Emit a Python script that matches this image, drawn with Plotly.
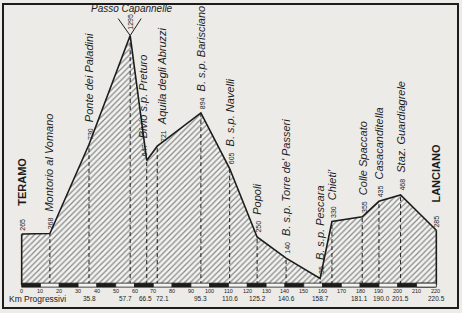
import plotly.graph_objects as go

# ---- data ----
names = ["TERAMO", "Montorio al Vomano", "Ponte dei Paladini", "Passo Capannelle",
         "Bivio s.p. Preturo", "Aquila degli Abruzzi", "B. s.p. Barisciano",
         "B. s.p. Navelli", "Popoli", "B. s.p. Torre de' Passeri", "B. s.p. Pescara",
         "Chieti'", "Colle Spaccato", "Casacanditella", "Staz. Guardiagrele", "LANCIANO"]
km = [0, 15, 35.8, 57.7, 66.5, 72.1, 95.3, 110.6, 125.2, 140.6, 158.7, 165, 181.1, 190.0, 201.5, 220.5]
elev = [265, 268, 730, 1295, 647, 721, 894, 605, 250, 140, 35, 330, 355, 435, 468, 285]
ticks = list(range(0, 230, 10))
km_labels = ["35.8", "57.7", "66.5", "72.1", "95.3", "110.6", "125.2", "140.6",
             "158.7", "181.1", "190.0", "201.5", "220.5"]
km_label_pos = [35.8, 57.7, 66.5, 72.1, 95.3, 110.6, 125.2, 140.6, 158.7, 181.1, 190.0, 201.5, 220.5]

INK = "#1c1c1c"
PAPER = "#ecebe8"
FILLBG = "#f3f3f1"
FONT = "Liberation Sans"

# small horizontal nudges for crowded labels (pixels)
label_nudge = {"Bivio s.p. Preturo": -3, "Aquila degli Abruzzi": 4}
km_nudge = {"57.7": -5, "66.5": -1, "72.1": 5, "181.1": -3, "190.0": 3}

fig = go.Figure()
fig.add_trace(go.Scatter(
    x=km, y=elev, mode="lines", line=dict(color=INK, width=1.6),
    fill="tozeroy", fillcolor="rgba(0,0,0,0)",
    fillpattern=dict(shape="/", fgcolor="#222222", bgcolor=FILLBG, size=4, solidity=0.33),
    hoverinfo="skip", showlegend=False))

shapes = []
for k, e in zip(km[1:-1], elev[1:-1]):
    shapes.append(dict(type="line", xref="x", yref="y", x0=k, x1=k, y0=0, y1=e,
                       line=dict(color=INK, width=1, dash="4px,3px")))
for k, e in ((km[0], elev[0]), (km[-1], elev[-1])):
    shapes.append(dict(type="line", xref="x", yref="y", x0=k, x1=k, y0=0, y1=e,
                       line=dict(color=INK, width=1.6)))
for i in range(len(ticks) - 1):
    x0, x1 = ticks[i], min(ticks[i + 1], km[-1])
    shapes.append(dict(type="rect", xref="x", yref="y", x0=x0, x1=x1,
                       ysizemode="pixel", yanchor=0, y0=-2, y1=2,
                       fillcolor=INK if i % 2 == 0 else FILLBG,
                       line=dict(color=INK, width=0.8)))
shapes.append(dict(type="rect", xref="x", yref="y", x0=ticks[-2], x1=km[-1],
                   ysizemode="pixel", yanchor=0, y0=-2, y1=2,
                   fillcolor=FILLBG, line=dict(color=INK, width=0.8)))
ip = names.index("Passo Capannelle")
for dx in (-12, 11):
    shapes.append(dict(type="line", xref="x", yref="y", xsizemode="pixel", ysizemode="pixel",
                       xanchor=km[ip], yanchor=elev[ip], x0=0, y0=0, x1=dx, y1=17,
                       line=dict(color=INK, width=1)))

ann = []
for n, k, e in zip(names, km, elev):
    if n in ("TERAMO", "LANCIANO"):
        ann.append(dict(x=k, y=e, xref="x", yref="y", text=str(e), textangle=-90,
                        showarrow=False, xanchor="center", yanchor="bottom", yshift=1,
                        font=dict(family=FONT, size=7, color=INK)))
        ann.append(dict(x=k, y=e, xref="x", yref="y", text="<b>%s</b>" % n, textangle=-90,
                        showarrow=False, xanchor="center", yanchor="bottom",
                        yshift=26, font=dict(family=FONT, size=11, color=INK)))
    elif n == "Passo Capannelle":
        ann.append(dict(x=k, y=e, xref="x", yref="y", text=str(e), textangle=-90,
                        showarrow=False, xanchor="center", yanchor="bottom", yshift=4,
                        font=dict(family=FONT, size=7, color=INK)))
        ann.append(dict(x=k, y=e, xref="x", yref="y", text="<i>%s</i>" % n,
                        showarrow=False, xanchor="center", yanchor="middle", yshift=27, xshift=2,
                        font=dict(family=FONT, size=10, color=INK)))
    else:
        ann.append(dict(x=k, y=e, xref="x", yref="y",
                        text="<span style='font-size:7px'>%d</span>  <i>%s</i>" % (e, n),
                        textangle=-90, showarrow=False, xanchor="center", yanchor="bottom",
                        yshift=2, xshift=label_nudge.get(n, 0),
                        font=dict(family=FONT, size=11, color=INK)))

for t in ticks:
    ann.append(dict(x=t, y=0, xref="x", yref="y", text=str(t), showarrow=False,
                    xanchor="center", yanchor="middle", yshift=-5.5,
                    font=dict(family=FONT, size=5.5, color=INK)))
for lab, p in zip(km_labels, km_label_pos):
    ann.append(dict(x=p, y=0, xref="x", yref="y", text=lab, showarrow=False,
                    xanchor="center", yanchor="middle", yshift=-13.5, xshift=km_nudge.get(lab, 0),
                    font=dict(family=FONT, size=6.5, color=INK)))
ann.append(dict(x=0.075, y=0, xref="paper", yref="y", text="Km Progressivi", showarrow=False,
                xanchor="center", yanchor="middle", yshift=-14,
                font=dict(family=FONT, size=8.5, color=INK)))

fig.update_layout(
    width=462, height=313, margin=dict(l=4, r=5, t=3, b=6),
    paper_bgcolor=PAPER, plot_bgcolor=PAPER,
    shapes=shapes, annotations=ann, showlegend=False,
    xaxis=dict(range=[-9.4, 231.5], showgrid=False, zeroline=False, showticklabels=False,
               ticks="", showline=True, mirror=True, linecolor=INK, linewidth=1.5),
    yaxis=dict(range=[-113.4, 1453.6], showgrid=False, zeroline=False, showticklabels=False,
               ticks="", showline=True, mirror=True, linecolor=INK, linewidth=1.5),
)
fig.write_html("out.html")
